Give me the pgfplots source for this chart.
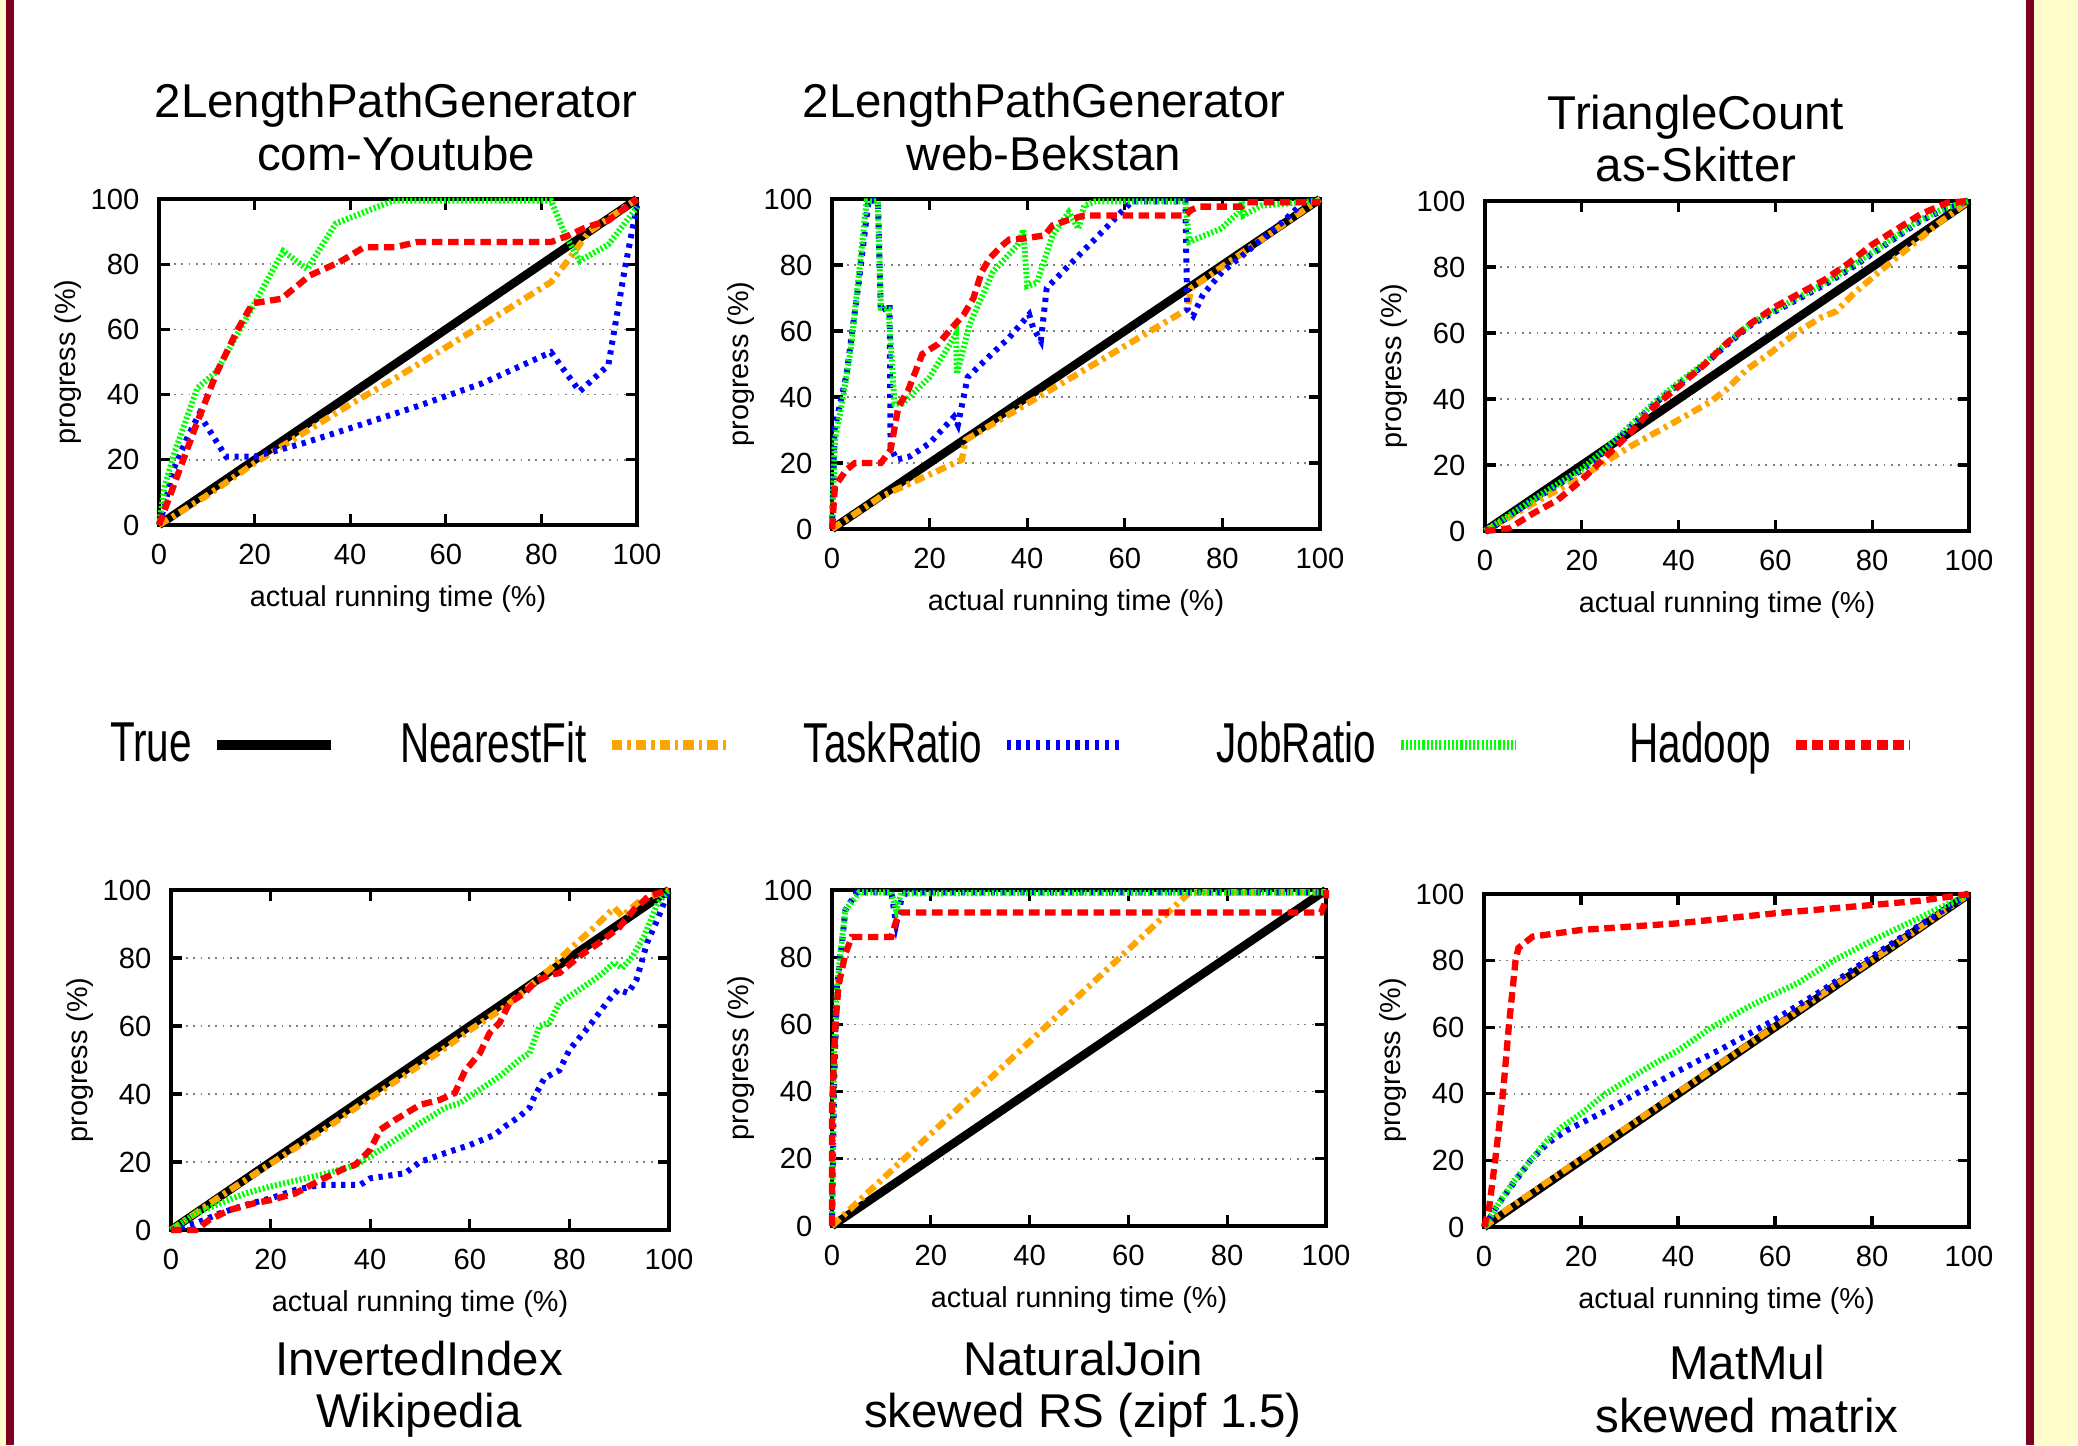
\documentclass[border=0pt]{standalone}
\usepackage{fontspec}
\setmainfont{Liberation Sans}
\usepackage{pgfplots}
\pgfplotsset{compat=1.18}

\definecolor{borderred}{RGB}{125,0,34}
\definecolor{sideyellow}{RGB}{255,253,204}
\definecolor{nfit}{RGB}{255,165,0}
\definecolor{tratio}{RGB}{0,0,255}
\definecolor{jratio}{RGB}{0,255,0}
\definecolor{hadoop}{RGB}{255,0,0}

\tikzset{
  sTrue/.style={black, line width=2.4pt},
  sNear/.style={nfit, line width=1.8pt, dash pattern=on 3pt off 1.4pt on 1pt off 1.4pt},
  sTask/.style={tratio, line width=1.7pt, dash pattern=on 1.2pt off 1.6pt},
  sJob/.style={jratio, line width=1.7pt, dash pattern=on 0.6pt off 0.6pt},
  sHad/.style={hadoop, line width=1.8pt, dash pattern=on 3pt off 1.6pt},
}

\newcommand\ttl{\fontsize{13.5}{15}\selectfont}
\newcommand\lbl{\fontsize{8.2}{9.5}\selectfont}
\newcommand\leg[1]{\makebox[1.85cm][r]{\scalebox{0.72}[1]{\fontsize{16}{18}\selectfont #1}}}

\pgfplotsset{
  panel/.style={
    scale only axis, anchor=south west, clip=false,
    xmin=0, xmax=100, ymin=0, ymax=100,
    xtick={0,20,...,100}, ytick={0,20,...,100},
    tick align=inside, tick pos=both,
    major tick length=0.11cm,
    tick style={black, line width=0.9pt},
    axis line style={black, line width=0.9pt},
    ymajorgrids,
    major grid style={gray, line width=0.5pt, dash pattern=on 0.5pt off 1.6pt},
    ticklabel style={font=\fontsize{8.3}{9}\selectfont, inner sep=0pt},
    xticklabel style={yshift=-0.18cm},
    yticklabel style={xshift=-0.19cm},
    /pgf/number format/assume math mode=true,
    every axis x label/.style={at={(axis description cs:0.5,0)}, yshift=-0.74cm, anchor=center, font=\lbl},
    every axis y label/.style={at={(axis description cs:0,0.5)}, xshift=-0.91cm, rotate=90, anchor=center, font=\lbl},
    xlabel={actual running time (\%)},
    ylabel={progress (\%)},
  }
}

\begin{document}
\begin{tikzpicture}
\useasboundingbox (0,0) rectangle (20.78,14.45);
\fill[white] (0,0) rectangle (20.78,14.45);
\fill[sideyellow] (0,0) rectangle (0.06,14.45);
\fill[borderred] (0.06,0) rectangle (0.14,14.45);
\fill[borderred] (20.26,0) rectangle (20.34,14.45);
\fill[sideyellow] (20.34,0) rectangle (20.78,14.45);

% top left: 2LengthPathGenerator com-Youtube
\begin{axis}[panel, at={(1.59cm,9.20cm)}, width=4.78cm, height=3.26cm]
\addplot[sTrue] coordinates {(0,0)(100,100)};
\addplot[sNear] coordinates {(0,0)(10,9)(20,19)(30,28)(40,37)(50,45.5)(60,54.5)(70,63.5)(82,74.5)(86,82)(90,90)(95,95)(100,100)};
\addplot[sTask] coordinates {(0,0)(1,5)(3,17)(6,27)(8.4,34)(11,28)(14,21)(20,21)(30,25)(40,29.7)(54,36.4)(67.7,43.5)(82,53)(88,41)(94,49)(97.5,79)(100,98)};
\addplot[sJob] coordinates {(0,0)(1.2,12)(3.2,22)(8,42)(12,47)(20,68)(26,84)(31,78.5)(37,92.5)(43,96)(49,99.5)(82,99.5)(85,89)(88,81)(94,86)(100,97.5)};
\addplot[sHad] coordinates {(0,0)(2.8,11)(7.6,30)(12,46.5)(16.4,59.8)(19.6,68)(25.6,69.4)(31.6,76.6)(37.7,80.6)(42.9,85.2)(49.3,85.2)(54,86.8)(82,86.8)(86,89)(89.3,91.3)(94,93.4)(100,100)};
\end{axis}

% top middle: 2LengthPathGenerator web-Bekstan
\begin{axis}[panel, at={(8.32cm,9.16cm)}, width=4.88cm, height=3.30cm]
\addplot[sTrue] coordinates {(0,0)(100,100)};
\addplot[sNear] coordinates {(0,0)(10,9.8)(20,16.5)(26.6,21)(27.4,27)(72.8,66.6)(73.6,73)(100,100)};
\addplot[sTask] coordinates {(0,0)(0.5,30)(3,47)(5.5,75)(7.5,99.5)(9.4,99.5)(10,66)(11.8,68)(12,25)(13.2,21)(16,22)(20,26)(25,34)(25.8,31.6)(27.8,46)(32,52)(36.3,58)(40.4,65)(41.2,61)(42.8,57)(44,73)(47.7,78.6)(54,88)(59.9,97)(61.5,99.3)(72.4,99.3)(72.8,66.6)(74,64.6)(76,71)(80,78)(83.4,82)(87.4,87)(92.3,93)(96.4,98.7)(100,100)};
\addplot[sJob] coordinates {(0,0)(0.6,27)(2.3,40)(3.9,55)(7.1,99.3)(9.4,99.3)(10,67)(11.6,66.6)(12.8,38)(14.4,38)(20,46)(25.4,59)(25.6,47)(28.2,62)(33,78)(38,86)(39.2,90.7)(40,73.6)(42,74.6)(45.2,89)(48.5,96)(50.5,91)(51.7,98)(54,99.3)(72.4,99.3)(73.2,87)(79.7,91)(83.4,96)(84,99.3)(84.3,95)(88,98)(100,99.5)};
\addplot[sHad] coordinates {(0,0)(0.6,13)(3,18)(4.7,20)(10,20)(12,24)(13.6,37)(15.6,42)(18.5,53)(21.7,56)(24.6,61)(27,65)(29,70)(30.7,78)(32.3,82)(34.7,85.7)(36.3,87.7)(39.2,88)(43.6,89)(45.2,92)(48.5,93.7)(51.7,95)(72.4,95)(73.6,96.7)(75.3,97.7)(84,97.7)(85,99)(100,99)};
\end{axis}

% top right: TriangleCount as-Skitter
\begin{axis}[panel, at={(14.85cm,9.14cm)}, width=4.84cm, height=3.30cm]
\addplot[sTrue] coordinates {(0,0)(100,100)};
\addplot[sNear] coordinates {(0,0)(10,8.4)(20,16.5)(30,25.6)(40,33.7)(46.4,39)(49.8,42.8)(54,48.9)(59,54)(64.2,60)(69.3,64.6)(72.6,66.6)(76,71.7)(81,78)(87.9,86.3)(93.8,93.4)(100,100)};
\addplot[sTask] coordinates {(0,0)(10,9.4)(20,18.5)(25,24.5)(30,31.5)(35,38.5)(40,44.5)(45,50)(50,56.5)(55,62.5)(60,66.6)(65,70.5)(70,74.5)(75,79)(80,84)(85,89)(90,94)(95,97.5)(100,100)};
\addplot[sJob] coordinates {(0,0)(10,9.6)(20,18.8)(25,25)(30,32)(35,39)(40,45)(45,50.5)(50,57)(55,63)(60,67)(65,71)(70,75)(75,79.5)(80,84.4)(85,89.4)(90,94.4)(95,97.8)(100,100)};
\addplot[sHad] coordinates {(0,0)(5,0.8)(10,5.4)(15,9.4)(20,15.5)(25,22.6)(30,29.7)(35,37.8)(40,43.8)(45,50)(50,57)(55,63)(60,68)(65,72)(70,76)(75,81)(80,86.8)(85,91.4)(90,96)(95.5,99.5)(100,100)};
\end{axis}

% bottom left: InvertedIndex Wikipedia
\begin{axis}[panel, at={(1.71cm,2.15cm)}, width=4.98cm, height=3.40cm]
\addplot[sTrue] coordinates {(0,0)(100,100)};
\addplot[sNear] coordinates {(0,0)(10,10)(20,19.5)(30,28.8)(40,38.8)(50,48.5)(55,53.5)(60,58.8)(67,65.5)(72,71.7)(76,76.6)(80,82.5)(85,89)(89,94.8)(90.6,92.3)(94.3,97)(100,100)};
\addplot[sTask] coordinates {(0,0)(5,2)(10,5)(15,7.4)(20,9.3)(25,11.8)(30,13.3)(38,13.3)(40,15.2)(47,16.7)(50,20)(55,22.6)(60,25)(65,28)(67,30.4)(70,33.4)(72,36)(73,39.3)(75,44.7)(78,47)(80,53)(84,60)(88,67.8)(89.8,70.7)(91.8,69.7)(93.5,73.7)(95.6,84.5)(97.7,91.4)(100,100)};
\addplot[sJob] coordinates {(0,0)(5,4.9)(10,7.9)(15,10.8)(20,12.8)(30,16.2)(37,19)(40,21.6)(45,26.5)(50,31.4)(55,35.9)(58,37.3)(62,41.3)(66,45.2)(70,50.1)(72,52)(74,60)(76,61)(78,66.8)(82,70.7)(86,74.7)(89,78.6)(90.6,77)(92.7,80.5)(95,86.4)(97.7,96)(100,100)};
\addplot[sHad] coordinates {(0,0)(5,0)(7.7,3)(11.8,5.9)(16.8,7.9)(20,8.8)(25,10.8)(30,14.7)(35,18.2)(37,19.2)(40,23.6)(42,29.5)(45,32.4)(50,36.8)(54,38.3)(57,40.3)(59,46.7)(62,52)(64,58)(66,61)(68,66.8)(71,69.7)(73,72.7)(76,75)(78,75.6)(82,80.5)(86,84.5)(90,89)(93,94.3)(96,98.2)(100,100)};
\end{axis}

% bottom middle: NaturalJoin skewed RS
\begin{axis}[panel, at={(8.32cm,2.19cm)}, width=4.94cm, height=3.36cm]
\addplot[sTrue] coordinates {(0,0)(100,100)};
\addplot[sNear] coordinates {(0,0)(72.4,99.3)(100,99.3)};
\addplot[sTask] coordinates {(0,0)(0.4,40)(1,71.5)(1.8,81)(2.7,94)(5,99.3)(12,99.3)(13,90)(14,97)(15,99.3)(100,99.3)};
\addplot[sJob] coordinates {(0,0)(0.4,50)(1,70)(1.6,80)(2.7,94)(4.3,97)(5.5,99.3)(12,99.3)(13,94)(14,99)(100,99.3)};
\addplot[sHad] coordinates {(0,0)(0,35)(0.7,60)(1.3,71.5)(2.7,81)(4,86)(12,86)(13,90.8)(14,93.3)(99,93.3)(100,97)(100,100)};
\end{axis}

% bottom right: MatMul skewed matrix
\begin{axis}[panel, at={(14.84cm,2.18cm)}, width=4.85cm, height=3.33cm]
\addplot[sTrue] coordinates {(0,0)(100,100)};
\addplot[sNear] coordinates {(0,0)(5,5.5)(10,10.5)(50,50.3)(100,100)};
\addplot[sTask] coordinates {(0,0)(3,7)(6,13)(9.6,20)(13,25)(17,29)(25,34.8)(31.9,40.5)(40,46.8)(50,54.3)(60,62.3)(70,71.3)(80,81.2)(90,90.8)(100,100)};
\addplot[sJob] coordinates {(0,0)(3,7)(6,13.5)(9.6,20)(13,26)(16,30)(20,34)(25,40)(30,44.5)(35,49)(40,53)(47,60)(55,66.5)(60,70)(65,73.5)(72,80)(80,86)(90,93)(100,100)};
\addplot[sHad] coordinates {(0,0)(1,5)(2.3,20)(3.9,40)(5.1,60)(6.5,80)(7.1,83.8)(10,87.2)(20,89.2)(40,91.2)(60,94.2)(80,96.7)(90,98)(100,100)};
\end{axis}

% shared legend
\begin{axis}[at={(0cm,0cm)}, anchor=south west, scale only axis,
  width=20.78cm, height=14.45cm, xmin=0, xmax=1, ymin=0, ymax=1, hide axis,
  legend columns=5, legend plot pos=right,
  legend style={at={(axis description cs:0.0030,0.4844)}, anchor=west,
    draw=none, fill=none, inner sep=0pt, nodes={inner sep=0pt},
    /tikz/every odd column/.append style={column sep=0.20cm},
    /tikz/every even column/.append style={column sep=0.66cm}},
  legend image code/.code={\draw[#1] (0cm,0cm) -- (1.14cm,0cm);},
]
\addlegendimage{sTrue, line width=2.8pt}
\addlegendentry{\leg{True}}
\addlegendimage{sNear, line width=2.8pt}
\addlegendentry{\leg{NearestFit}}
\addlegendimage{sTask, line width=2.8pt}
\addlegendentry{\leg{TaskRatio}}
\addlegendimage{sJob, line width=2.8pt}
\addlegendentry{\leg{JobRatio}}
\addlegendimage{sHad, line width=2.8pt}
\addlegendentry{\leg{Hadoop}}
\end{axis}

% panel titles
\node[anchor=base, font=\ttl] at (3.96,13.27) {2LengthPathGenerator};
\node[anchor=base, font=\ttl] at (3.96,12.74) {com-Youtube};
\node[anchor=base, font=\ttl] at (10.44,13.27) {2LengthPathGenerator};
\node[anchor=base, font=\ttl] at (10.44,12.74) {web-Bekstan};
\node[anchor=base, font=\ttl] at (16.96,13.15) {TriangleCount};
\node[anchor=base, font=\ttl] at (16.96,12.63) {as-Skitter};
\node[anchor=base, font=\ttl] at (4.19,0.70) {InvertedIndex};
\node[anchor=base, font=\ttl] at (4.19,0.18) {Wikipedia};
\node[anchor=base, font=\ttl] at (10.83,0.70) {NaturalJoin};
\node[anchor=base, font=\ttl] at (10.83,0.18) {skewed RS (zipf 1.5)};
\node[anchor=base, font=\ttl] at (17.47,0.66) {MatMul};
\node[anchor=base, font=\ttl] at (17.47,0.13) {skewed matrix};
\end{tikzpicture}
\end{document}
